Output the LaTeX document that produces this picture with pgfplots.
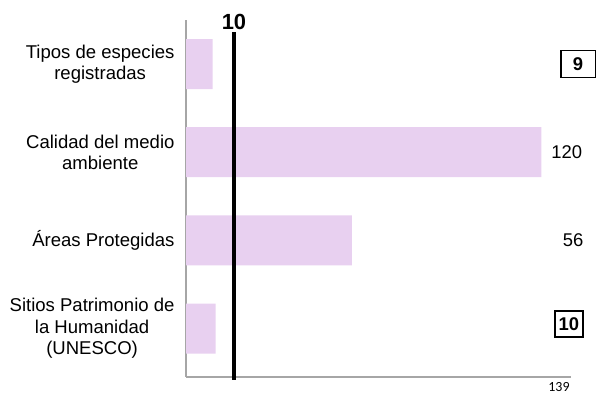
\documentclass[border=0pt]{standalone}
\usepackage{pgfplots}
\pgfplotsset{compat=1.18}
\usepackage{fontspec}
\setmainfont{Liberation Sans}
\newfontfamily\carlito{Carlito}
\definecolor{barfill}{RGB}{232,208,240}
\definecolor{axisgray}{RGB}{166,166,166}
\begin{document}
\begin{tikzpicture}
\path[use as bounding box] (0,0) rectangle (596bp,394bp);
\begin{axis}[
  at={(186bp,17bp)}, anchor=south west,
  scale only axis, width=385bp, height=357bp,
  xmin=0, xmax=130, ymin=-0.55, ymax=3.5,
  axis x line*=bottom, axis y line*=left,
  axis line style={-, axisgray, line width=1.2bp},
  xtick=\empty,
  ytick={0,1,2,3},
  yticklabels={{Sitios Patrimonio de\\la Humanidad\\(UNESCO)},{Áreas Protegidas},{Calidad del medio\\ambiente},{Tipos de especies\\registradas}},
  yticklabel style={align=center, font=\fontsize{18.6}{21.5}\selectfont, xshift=-8bp},
  major tick length=0pt,
  clip=false,
]
\addplot[xbar, bar width=50bp, fill=barfill, draw=none] coordinates {(10,0) (56,1) (120,2) (9,3)};
\addplot[black, line width=4bp] coordinates {(16.2,-0.58) (16.2,3.36)};
\node[anchor=south, inner sep=2bp, font=\bfseries\fontsize{22}{26}\selectfont] at (axis cs:16.2,3.36) {10};
\node[draw, line width=1.8bp, minimum width=35bp, minimum height=27bp, inner sep=0pt, font=\bfseries\fontsize{18.5}{22}\selectfont] at (axis cs:132.4,3) {9};
\node[font=\fontsize{18.5}{22}\selectfont] at (axis cs:128.6,2) {120};
\node[font=\fontsize{18.5}{22}\selectfont] at (axis cs:130.7,1) {56};
\node[draw, line width=1.8bp, minimum width=28bp, minimum height=26bp, inner sep=0pt, font=\bfseries\fontsize{18.5}{22}\selectfont] at (axis cs:129.3,0.05) {10};
\end{axis}
\node[font=\carlito\fontsize{14}{17}\selectfont] at (559bp,7bp) {139};
\end{tikzpicture}
\end{document}
